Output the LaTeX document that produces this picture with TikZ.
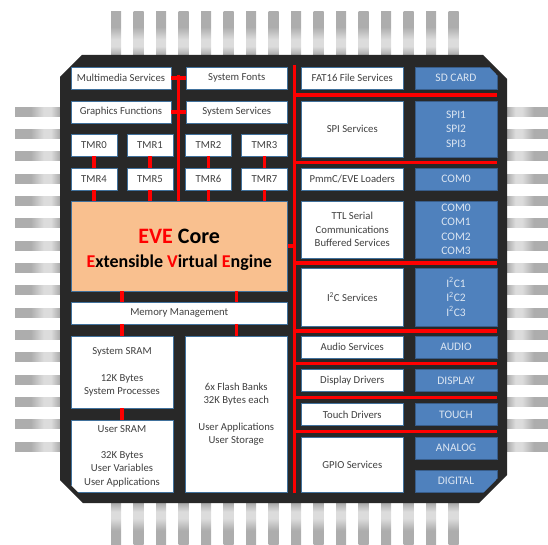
\documentclass[tikz,border=0pt]{standalone}
\usepackage{fontspec}
\setmainfont{Carlito}
\usetikzlibrary{calc}
\definecolor{chipbody}{HTML}{282828}
\definecolor{busred}{HTML}{FF0000}
\definecolor{wedge}{HTML}{41719C}
\definecolor{bfill}{HTML}{4F81BD}
\definecolor{bedge}{HTML}{385D8A}
\definecolor{btext}{HTML}{DCE6F2}
\definecolor{wtext}{HTML}{404040}
\definecolor{corefill}{HTML}{F9C08F}
\definecolor{pgA}{HTML}{ADADAD}
\definecolor{pgL}{HTML}{DCDCDC}
\definecolor{pgB}{HTML}{A4A4A4}
\pgfdeclarehorizontalshading{pinleft}{100bp}{color(0bp)=(pgA); color(42bp)=(pgA); color(56bp)=(pgL); color(64bp)=(pgL); color(75bp)=(pgB); color(100bp)=(pgB)}
\pgfdeclarehorizontalshading{pinright}{100bp}{color(0bp)=(pgB); color(25bp)=(pgB); color(36bp)=(pgL); color(44bp)=(pgL); color(58bp)=(pgA); color(100bp)=(pgA)}
\pgfdeclareverticalshading{pintop}{100bp}{color(0bp)=(pgB); color(25bp)=(pgB); color(36bp)=(pgL); color(44bp)=(pgL); color(58bp)=(pgA); color(100bp)=(pgA)}
\pgfdeclareverticalshading{pinbottom}{100bp}{color(0bp)=(pgA); color(42bp)=(pgA); color(56bp)=(pgL); color(64bp)=(pgL); color(75bp)=(pgB); color(100bp)=(pgB)}
\tikzset{
  wbox/.style={draw=wedge, line width=0.9pt, fill=white, text=wtext,
    font=\fontsize{10.7}{13.3}\selectfont, align=center, inner sep=0pt},
  bbox/.style={draw=bedge, line width=0.9pt, fill=bfill, text=btext,
    font=\fontsize{11.5}{14.5}\selectfont, align=center, inner sep=0pt},
  corebox/.style={wbox, fill=corefill, text=black},
  bus/.style={draw=busred, line width=3.4pt},
}
\begin{document}
\begin{tikzpicture}[x=1pt,y=-1pt]
\useasboundingbox (0,0) rectangle (548,545);
% pins
\foreach \i in {0,...,15}{
  \pgfmathsetmacro\px{116+22.5*\i}
  \pgfmathsetmacro\py{111.7+22.33*\i}
  \path[shading=pintop] (\px-5,12) rectangle (\px+5,56);
  \path[shading=pinbottom] (\px-5,502) rectangle (\px+5,545);
  \path[shading=pinleft] (15,\py-4.5) rectangle (61,\py+4.5);
  \path[shading=pinright] (506,\py-4.5) rectangle (548,\py+4.5);
}
% chip body
\fill[chipbody] (60,77) -- (82,55) -- (483,55) -- (507,79) -- (507,475) -- (479,503) -- (83,503) -- (60,480) -- cycle;
\begin{scope}
\clip (60,77) -- (82,55) -- (477,55) -- (507,85) -- (507,469) -- (473,503) -- (89,503) -- (60,474) -- cycle;
% left column
\node[wbox, minimum width=100pt, minimum height=22pt] (mms) at (121,78) {Multimedia Services};
\node[wbox, minimum width=101.5pt, minimum height=22pt] (fonts) at (236.75,78) {System Fonts};
\node[wbox, minimum width=100pt, minimum height=22pt] (gfx) at (121,112) {Graphics Functions};
\node[wbox, minimum width=101.5pt, minimum height=22pt] (sserv) at (236.75,112) {System Services};
\node[wbox, minimum width=46pt, minimum height=22pt] (t0) at (94,145) {TMR0};
\node[wbox, minimum width=46pt, minimum height=22pt] (t1) at (150,145) {TMR1};
\node[wbox, minimum width=46pt, minimum height=22pt] (t2) at (208.5,145) {TMR2};
\node[wbox, minimum width=46pt, minimum height=22pt] (t3) at (264.5,145) {TMR3};
\node[wbox, minimum width=46pt, minimum height=22pt] (t4) at (94,179) {TMR4};
\node[wbox, minimum width=46pt, minimum height=22pt] (t5) at (150,179) {TMR5};
\node[wbox, minimum width=46pt, minimum height=22pt] (t6) at (208.5,179) {TMR6};
\node[wbox, minimum width=46pt, minimum height=22pt] (t7) at (264.5,179) {TMR7};
\node[corebox, minimum width=216.5pt, minimum height=90pt] (eve) at (179.25,246)
  {\fontsize{22}{26}\selectfont\bfseries\rule{0pt}{22.5pt}\textcolor{busred}{EVE} Core\\[11pt]
   \fontsize{18}{22}\selectfont\bfseries\textcolor{busred}{E}xtensible \textcolor{busred}{V}irtual \textcolor{busred}{E}ngine};
\node[wbox, minimum width=216.5pt, minimum height=22pt] (mm) at (179.25,313) {Memory Management};
\node[wbox, minimum width=102pt, minimum height=72pt] (ssram) at (122,372) {System SRAM\\[13.3pt]12K Bytes\\System Processes};
\node[wbox, minimum width=102pt, minimum height=72pt] (usram) at (122,456) {User SRAM\\[13.3pt]32K Bytes\\User Variables\\User Applications};
\node[wbox, minimum width=102.5pt, minimum height=156pt] (flash) at (236.25,414) {6x Flash Banks\\32K Bytes each\\[13.3pt]User Applications\\User Storage};
% right column
\node[wbox, minimum width=102.5pt, minimum height=22pt] (fat) at (352.25,78) {FAT16 File Services};
\node[bbox, minimum width=82pt, minimum height=22pt] (sd) at (456,78) {SD CARD};
\node[wbox, minimum width=102.5pt, minimum height=56pt] (spis) at (352.25,129) {SPI Services};
\node[bbox, minimum width=82pt, minimum height=56pt] (spib) at (456,129) {SPI1\\SPI2\\SPI3};
\node[wbox, minimum width=102.5pt, minimum height=22pt] (pmmc) at (352.25,179) {PmmC/EVE Loaders};
\node[bbox, minimum width=82pt, minimum height=22pt] (com) at (456,179) {COM0};
\node[wbox, minimum width=102.5pt, minimum height=57pt] (ttl) at (352.25,229.5) {TTL Serial\\Communications\\Buffered Services};
\node[bbox, minimum width=82pt, minimum height=57pt] (comb) at (456,229.5) {COM0\\COM1\\COM2\\COM3};
\node[wbox, minimum width=102.5pt, minimum height=58pt] (i2cs) at (352.25,297) {I\textsuperscript{2}C Services};
\node[bbox, minimum width=82pt, minimum height=58pt] (i2cb) at (456,297) {I\textsuperscript{2}C1\\I\textsuperscript{2}C2\\I\textsuperscript{2}C3};
\node[wbox, minimum width=102.5pt, minimum height=22pt] (aud) at (352.25,347) {Audio Services};
\node[bbox, minimum width=82pt, minimum height=22pt] (audb) at (456,347) {AUDIO};
\node[wbox, minimum width=102.5pt, minimum height=22pt] (disp) at (352.25,380.5) {Display Drivers};
\node[bbox, minimum width=82pt, minimum height=22pt] (dispb) at (456,380.5) {DISPLAY};
\node[wbox, minimum width=102.5pt, minimum height=22pt] (tch) at (352.25,414.5) {Touch Drivers};
\node[bbox, minimum width=82pt, minimum height=22pt] (tchb) at (456,414.5) {TOUCH};
\node[wbox, minimum width=102.5pt, minimum height=55pt] (gpio) at (352.25,464.5) {GPIO Services};
\node[bbox, minimum width=82pt, minimum height=22pt] (ana) at (456,448) {ANALOG};
\node[bbox, minimum width=82pt, minimum height=22pt] (dig) at (456,481) {DIGITAL};
% left buses
\coordinate (lbtop) at (178.5,75);
\draw[bus] (lbtop) -- (lbtop |- eve.north);
\draw[bus] (mms.east) -- (fonts.west);
\draw[bus] (gfx.east) -- (sserv.west);
\foreach \a/\b in {t0/t4,t1/t5,t2/t6,t3/t7}{
  \draw[bus] (\a) -- (\b);
  \draw[bus] (\b.south) -- (\b.south |- eve.north);
}
\draw[bus] (eve.south -| ssram) -- (mm.north -| ssram);
\draw[bus] (mm.south -| ssram) -- (ssram.north);
\draw[bus] (eve.south -| flash) -- (mm.north -| flash);
\draw[bus] (mm.south -| flash) -- (flash.north);
\draw[bus] (ssram) -- (usram);
% right buses
\coordinate (rbtop) at (294.5,65);
\coordinate (rbbot) at (294.5,493);
\draw[bus] (rbtop) -- (rbbot);
\draw[bus] (eve.east) -- (eve.east -| rbtop);
\foreach \u/\v [count=\k] in {sd/spib,spib/com,comb/i2cb,i2cb/audb,audb/dispb,dispb/tchb,tchb/ana}{
  \path ($(\u.south)!0.5!(\v.north)$) coordinate (rh\k);
  \draw[bus] (rh\k -| rbtop) -- (rh\k -| sd.east);
}
\end{scope}
\end{tikzpicture}
\end{document}
